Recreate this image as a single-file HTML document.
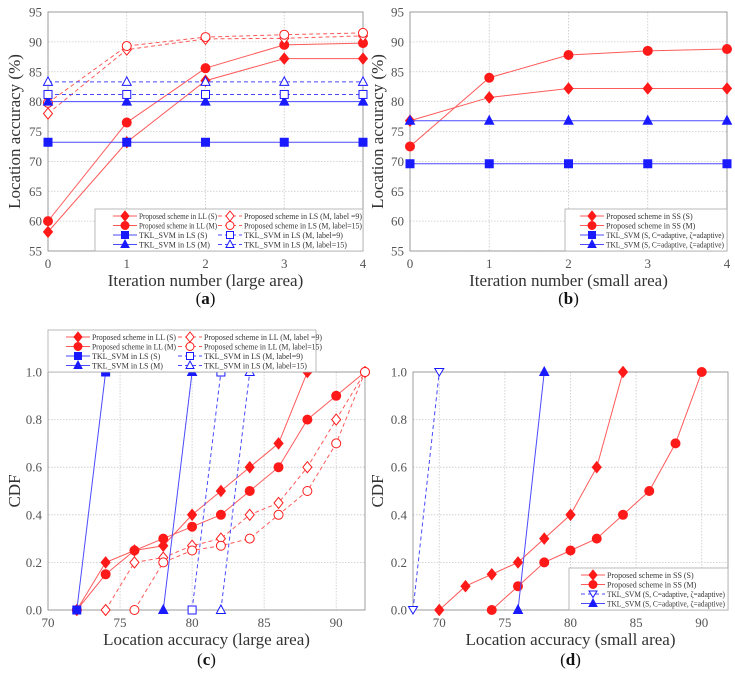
<!DOCTYPE html>
<html><head><meta charset="utf-8"><style>
body{margin:0;background:#fff;width:735px;height:680px;overflow:hidden}
svg{display:block;font-family:"Liberation Serif",serif}
</style></head><body>
<svg id="fig" width="735" height="680" viewBox="0 0 735 680" xmlns="http://www.w3.org/2000/svg"></svg>
<script>
// Panel (a)
const iterA = [0,1,2,3,4];
const aLLS = [58.2,73.2,83.5,87.2,87.2];
const aLLM = [60,76.5,85.6,89.5,89.8];
const aLS9 = [78,88.7,90.5,90.6,91];
const aLS15 = [79.8,89.3,90.8,91.2,91.5];
const aTklS = [73.2,73.2,73.2,73.2,73.2];
const aTklM = [80,80,80,80,80];
const aTkl9 = [81.2,81.2,81.2,81.2,81.2];
const aTkl15 = [83.3,83.3,83.3,83.3,83.3];
// Panel (b)
const iterB = [0,1,2,3,4];
const bSSS = [76.8,80.7,82.2,82.2,82.2];
const bSSM = [72.5,84,87.8,88.5,88.8];
const bTklSq = [69.6,69.6,69.6,69.6,69.6];
const bTklTri = [76.8,76.8,76.8,76.8,76.8];
// Panel (c)
const cLLSx = [72,74,76,78,80,82,84,86,88];
const cLLSy = [0,0.2,0.25,0.27,0.4,0.5,0.6,0.7,1.0];
const cLLMx = [72,74,76,78,80,82,84,86,88,90,92];
const cLLMy = [0,0.15,0.25,0.3,0.35,0.4,0.5,0.6,0.8,0.9,1.0];
const cLS9x = [74,76,78,80,82,84,86,88,90,92];
const cLS9y = [0,0.2,0.22,0.27,0.3,0.4,0.45,0.6,0.8,1.0];
const cLS15x = [76,78,80,82,84,86,88,90,92];
const cLS15y = [0,0.2,0.25,0.27,0.3,0.4,0.5,0.7,1.0];
const cTklSx = [72,74], cTklSy = [0,1];
const cTklMx = [78,80], cTklMy = [0,1];
const cTkl9x = [80,82], cTkl9y = [0,1];
const cTkl15x = [82,84], cTkl15y = [0,1];
// Panel (d)
const dSSSx = [70,72,74,76,78,80,82,84];
const dSSSy = [0,0.1,0.15,0.2,0.3,0.4,0.6,1.0];
const dSSMx = [74,76,78,80,82,84,86,88,90];
const dSSMy = [0,0.1,0.2,0.25,0.3,0.4,0.5,0.7,1.0];
const dTklDx = [68,70], dTklDy = [0,1];
const dTklTx = [76,78], dTklTy = [0,1];
// ticks
const accTicks = [55,60,65,70,75,80,85,90,95];
const iterTicks = [0,1,2,3,4];
const cdfTicks = [0,0.2,0.4,0.6,0.8,1.0];
const cXTicks = [70,75,80,85,90];
const dXTicks = [70,75,80,85,90];

const NS='http://www.w3.org/2000/svg';
const svg=document.getElementById('fig');
const RED='#ff1a1a', REDL='#ff5a5a', BLUE='#1a1aff', BLUEL='#4a4aff';
function mk(tag,attrs,parent){const e=document.createElementNS(NS,tag);for(const k in attrs)e.setAttribute(k,attrs[k]);(parent||svg).appendChild(e);return e;}

function marker(g,type,x,y,col,filled,r){
  r=r||4.5;
  const f=filled?col:'#fff';
  let e;
  if(type==='diamond')e=mk('polygon',{points:`${x},${y-r-1} ${x+r},${y} ${x},${y+r+1} ${x-r},${y}`,fill:f,stroke:col,'stroke-width':1},g);
  else if(type==='circle')e=mk('circle',{cx:x,cy:y,r:r,fill:f,stroke:col,'stroke-width':1},g);
  else if(type==='square')e=mk('rect',{x:x-r+0.5,y:y-r+0.5,width:2*r-1,height:2*r-1,fill:f,stroke:col,'stroke-width':1},g);
  else if(type==='tri')e=mk('polygon',{points:`${x},${y-r-0.5} ${x+r},${y+r-1} ${x-r},${y+r-1}`,fill:f,stroke:col,'stroke-width':1},g);
  else if(type==='dtri')e=mk('polygon',{points:`${x},${y+r-0.5} ${x+r},${y-r+1} ${x-r},${y-r+1}`,fill:f,stroke:col,'stroke-width':1},g);
  
  
}

function panel(p){
  const g=mk('g',{});
  
  
  const sx=v=>p.x0+(v-p.xmin)/(p.xmax-p.xmin)*(p.x1-p.x0);
  const sy=v=>p.y1-(v-p.ymin)/(p.ymax-p.ymin)*(p.y1-p.y0);
  p.xGrid.forEach(v=>{const l=mk('line',{x1:sx(v),x2:sx(v),y1:p.y0,y2:p.y1,stroke:'#c8c8c8','stroke-width':0.8,'stroke-dasharray':'1.5,1.5'},g);
    });
  p.yTicks.forEach(v=>{const l=mk('line',{x1:p.x0,x2:p.x1,y1:sy(v),y2:sy(v),stroke:'#c8c8c8','stroke-width':0.8,'stroke-dasharray':'1.5,1.5'},g);
    });
  const fr=mk('rect',{x:p.x0,y:p.y0,width:p.x1-p.x0,height:p.y1-p.y0,fill:'none',stroke:'#888','stroke-width':0.8},g);
  
  p.xTicks.forEach(v=>{const t=mk('text',{x:sx(v),y:p.y1+17,'text-anchor':'middle','font-size':13,fill:'#555'},g);t.textContent=v;
    });
  p.yTicks.forEach(v=>{const t=mk('text',{x:p.x0-6,y:sy(v)+4.5,'text-anchor':'end','font-size':13,fill:'#555'},g);t.textContent=p.yFmt(v);
    });
  const xt=mk('text',{x:(p.x0+p.x1)/2,y:p.y1+35,'text-anchor':'middle','font-size':17,fill:'#333'},g);xt.textContent=p.xTitle;
  
  const yt=mk('text',{x:0,y:0,'text-anchor':'middle','font-size':17,fill:'#333',transform:`translate(${p.yTitleX},${(p.y0+p.y1)/2}) rotate(-90)`},g);yt.textContent=p.yTitle;
  
  const cap=mk('text',{x:(p.x0+p.x1)/2,y:p.capY,'text-anchor':'middle','font-size':17,fill:'#111'},g);
  cap.innerHTML='(<tspan font-weight="bold">'+p.cap+'</tspan>)';
  
  const clip='clip-'+p.cap;
  const cp=mk('clipPath',{id:clip},g);mk('rect',{x:p.x0-6,y:p.y0-6,width:p.x1-p.x0+12,height:p.y1-p.y0+12},cp);
  p.series.forEach(s=>{
    const sg=mk('g',{'clip-path':`url(#${clip})`},g);
    
    
    const pts=s.xs.map((x,i)=>sx(x)+','+sy(s.ys[i])).join(' ');
    const pl=mk('polyline',{points:pts,fill:'none',stroke:s.lc,'stroke-width':1,'stroke-dasharray':s.dash?'4,3':'none'},sg);
    
    s.xs.forEach((x,i)=>marker(sg,s.m,sx(x),sy(s.ys[i]),s.c,!s.dash));
  });
  const L=p.legend;
  const lg=mk('g',{},g);
  
  
  mk('rect',{x:L.x,y:L.y,width:L.w,height:L.h,fill:'#fff',stroke:'#aaa','stroke-width':0.8},lg);
  L.items.forEach((it,i)=>{
    const col=i%L.cols, row=Math.floor(i/L.cols);
    const ix=L.x+L.pad+col*L.colW, iy=L.y+L.top+row*L.rowH;
    const e=mk('g',{},lg);
    
    
    const s=it.s;
    mk('line',{x1:ix,x2:ix+24,y1:iy,y2:iy,stroke:s.lc,'stroke-width':1,'stroke-dasharray':s.dash?'4,3':'none'},e);
    marker(e,s.m,ix+12,iy,s.c,!s.dash,4);
    const t=mk('text',{x:ix+26,y:iy+3,'font-size':L.fs,fill:'#333'},e);t.textContent=it.label;
    const w=L.maxW[col];
    if(t.getComputedTextLength&&t.getComputedTextLength()>w){t.setAttribute('textLength',w);t.setAttribute('lengthAdjust','spacingAndGlyphs');}
  });
}

const S=(id,xs,ys,m,c,lc,dash)=>({id,xs,ys,m,c,lc,dash});
const sa=[S('ll-s',iterA,aLLS,'diamond',RED,REDL,false),S('ll-m',iterA,aLLM,'circle',RED,REDL,false),
 S('ls-9',iterA,aLS9,'diamond',RED,REDL,true),S('ls-15',iterA,aLS15,'circle',RED,REDL,true),
 S('tkl-s',iterA,aTklS,'square',BLUE,BLUEL,false),S('tkl-m',iterA,aTklM,'tri',BLUE,BLUEL,false),
 S('tkl-9',iterA,aTkl9,'square',BLUE,BLUEL,true),S('tkl-15',iterA,aTkl15,'tri',BLUE,BLUEL,true)];
panel({name:'panel-a',cap:'a',x0:48,x1:363,y0:12,y1:251,xmin:0,xmax:4,ymin:55,ymax:95,
 xTicks:iterTicks,xGrid:iterTicks,yTicks:accTicks,yFmt:v=>v,xTitle:'Iteration  number (large area)',yTitle:'Location accuracy (%)',yTitleX:20,capY:304,
 series:sa,legend:{x:95,y:209,w:268,h:42,cols:2,colW:105,rowH:9.5,top:7,pad:18,fs:8,maxW:[78,118],
 items:[{s:sa[0],label:'Proposed scheme in LL (S)'},{s:sa[2],label:'Proposed scheme in LS (M, label =9)'},
 {s:sa[1],label:'Proposed scheme in LL (M)'},{s:sa[3],label:'Proposed scheme in LS (M, label=15)'},
 {s:sa[4],label:'TKL_SVM in LS (S)'},{s:sa[6],label:'TKL_SVM in LS (M, label=9)'},
 {s:sa[5],label:'TKL_SVM in LS (M)'},{s:sa[7],label:'TKL_SVM in LS (M, label=15)'}]}});
const sb=[S('ss-s',iterB,bSSS,'diamond',RED,REDL,false),S('ss-m',iterB,bSSM,'circle',RED,REDL,false),
 S('tkl-sq',iterB,bTklSq,'square',BLUE,BLUEL,false),S('tkl-tri',iterB,bTklTri,'tri',BLUE,BLUEL,false)];
panel({name:'panel-b',cap:'b',x0:410,x1:727,y0:12,y1:251,xmin:0,xmax:4,ymin:55,ymax:95,
 xTicks:iterTicks,xGrid:iterTicks,yTicks:accTicks,yFmt:v=>v,xTitle:'Iteration  number (small area)',yTitle:'Location accuracy (%)',yTitleX:383,capY:304,
 series:sb,legend:{x:565,y:209,w:162,h:42,cols:1,colW:160,rowH:9.5,top:7,pad:15,fs:8,maxW:[118],
 items:[{s:sb[0],label:'Proposed scheme in SS (S)'},{s:sb[1],label:'Proposed scheme in SS (M)'},
 {s:sb[2],label:'TKL_SVM (S, C=adaptive, ζ=adaptive)'},{s:sb[3],label:'TKL_SVM (S, C=adaptive, ζ=adaptive)'}]}});
const sc=[S('ll-s',cLLSx,cLLSy,'diamond',RED,REDL,false),S('ll-m',cLLMx,cLLMy,'circle',RED,REDL,false),
 S('ll-9',cLS9x,cLS9y,'diamond',RED,REDL,true),S('ll-15',cLS15x,cLS15y,'circle',RED,REDL,true),
 S('tkl-s',cTklSx,cTklSy,'square',BLUE,BLUEL,false),S('tkl-m',cTklMx,cTklMy,'tri',BLUE,BLUEL,false),
 S('tkl-9',cTkl9x,cTkl9y,'square',BLUE,BLUEL,true),S('tkl-15',cTkl15x,cTkl15y,'tri',BLUE,BLUEL,true)];
panel({name:'panel-c',cap:'c',x0:48,x1:365,y0:372,y1:610,xmin:70,xmax:92,ymin:0,ymax:1,
 xTicks:cXTicks,xGrid:cXTicks,yTicks:cdfTicks,yFmt:v=>v.toFixed(1),xTitle:'Location accuracy (large area)',yTitle:'CDF',yTitleX:20,capY:665,
 series:sc,legend:{x:48,y:330,w:268,h:42,cols:2,colW:112,rowH:9.5,top:7,pad:18,fs:8,maxW:[84,118],
 items:[{s:sc[0],label:'Proposed scheme in LL (S)'},{s:sc[2],label:'Proposed scheme in LL (M, label =9)'},
 {s:sc[1],label:'Proposed scheme in LL (M)'},{s:sc[3],label:'Proposed scheme in LL (M, label=15)'},
 {s:sc[4],label:'TKL_SVM in LS (S)'},{s:sc[6],label:'TKL_SVM in LS (M, label=9)'},
 {s:sc[5],label:'TKL_SVM in LS (M)'},{s:sc[7],label:'TKL_SVM in LS (M, label=15)'}]}});
const sd=[S('ss-s',dSSSx,dSSSy,'diamond',RED,REDL,false),S('ss-m',dSSMx,dSSMy,'circle',RED,REDL,false),
 S('tkl-d',dTklDx,dTklDy,'dtri',BLUE,BLUEL,true),S('tkl-t',dTklTx,dTklTy,'tri',BLUE,BLUEL,false)];
panel({name:'panel-d',cap:'d',x0:413,x1:728,y0:372,y1:610,xmin:68,xmax:92,ymin:0,ymax:1,
 xTicks:dXTicks,xGrid:dXTicks,yTicks:cdfTicks,yFmt:v=>v.toFixed(1),xTitle:'Location accuracy (small area)',yTitle:'CDF',yTitleX:383,capY:665,
 series:sd,legend:{x:569,y:568,w:159,h:42,cols:1,colW:155,rowH:9.5,top:7,pad:12,fs:8,maxW:[118],
 items:[{s:sd[0],label:'Proposed scheme in SS (S)'},{s:sd[1],label:'Proposed scheme in SS (M)'},
 {s:sd[2],label:'TKL_SVM (S, C=adaptive, ζ=adaptive)'},{s:sd[3],label:'TKL_SVM (S, C=adaptive, ζ=adaptive)'}]}});
</script>
</body></html>
